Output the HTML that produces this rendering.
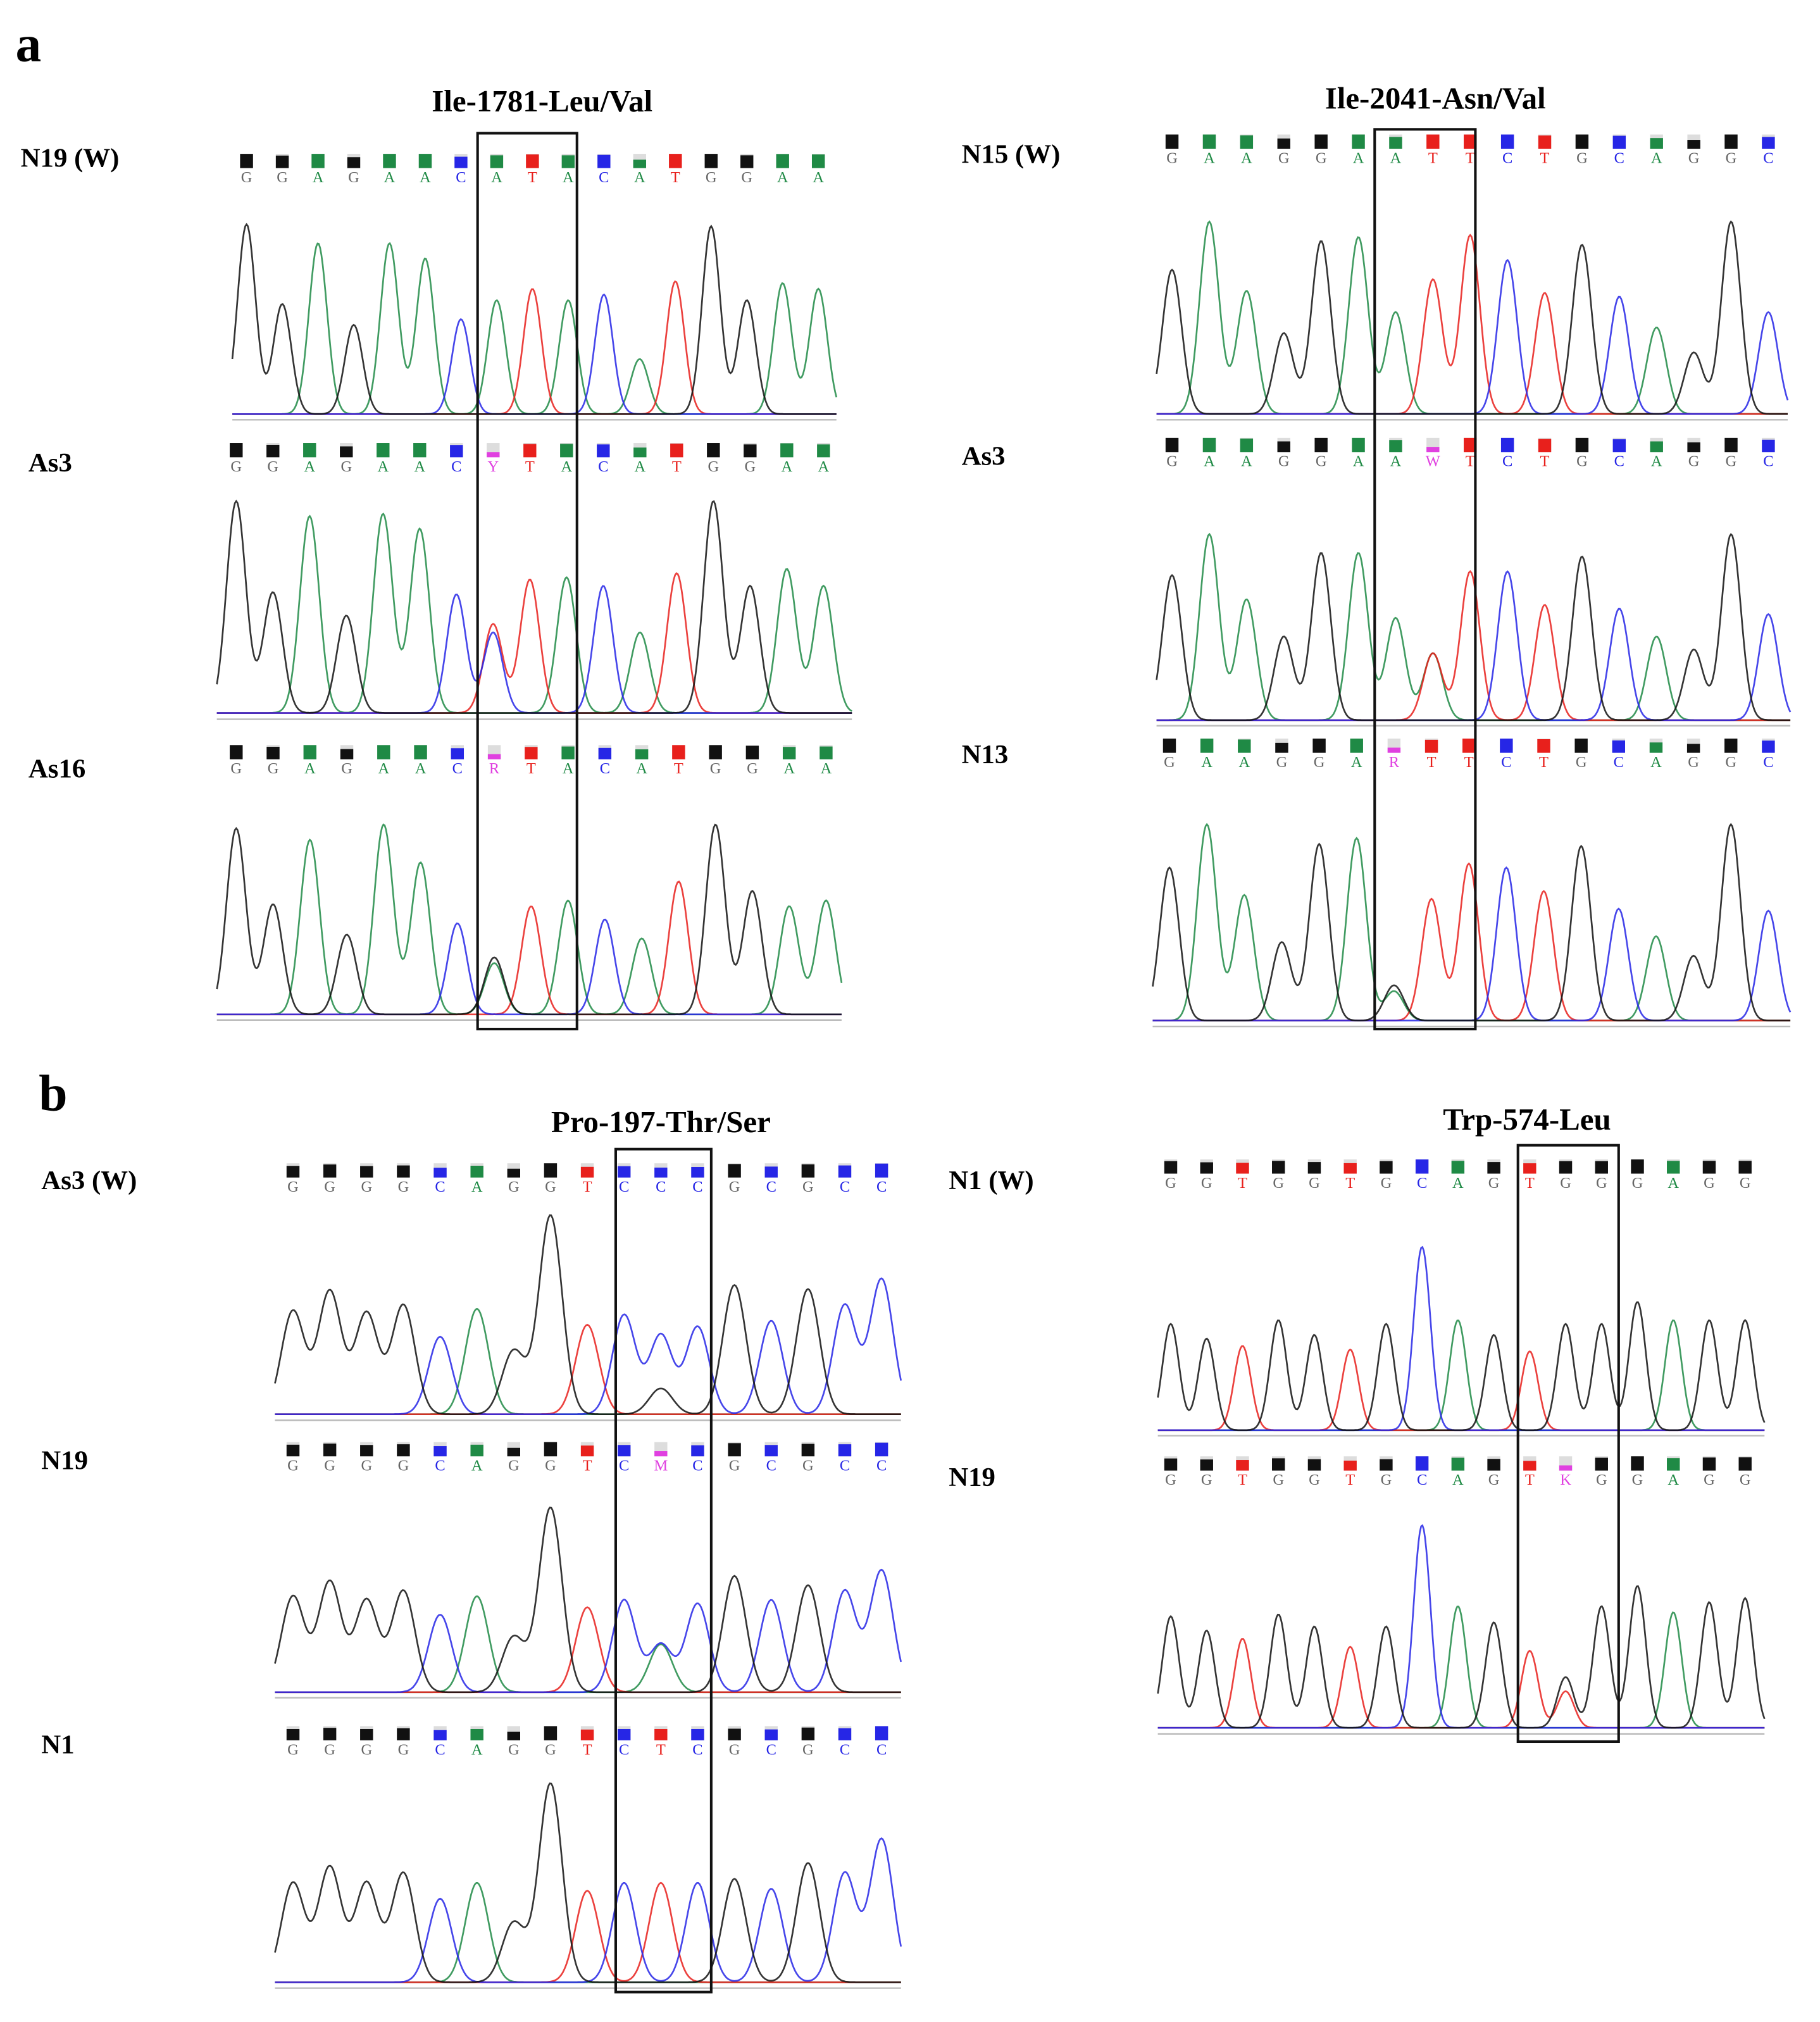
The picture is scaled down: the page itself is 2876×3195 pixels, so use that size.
<!DOCTYPE html>
<html><head><meta charset="utf-8"><style>
html,body{margin:0;padding:0;background:#fff;}
svg{display:block;}
text{font-family:"Liberation Serif",serif;}
</style></head><body>
<svg id="fig" width="2876" height="3195" viewBox="0 0 1410 1566" xmlns="http://www.w3.org/2000/svg">
<text x="12" y="47" font-size="40" font-weight="bold">a</text>
<text x="30" y="860" font-size="40" font-weight="bold">b</text>
<text x="420" y="86" font-size="24" font-weight="bold" text-anchor="middle">Ile-1781-Leu/Val</text>
<text x="1112" y="84" font-size="24" font-weight="bold" text-anchor="middle">Ile-2041-Asn/Val</text>
<text x="512" y="877" font-size="24" font-weight="bold" text-anchor="middle">Pro-197-Thr/Ser</text>
<text x="1183" y="875" font-size="24" font-weight="bold" text-anchor="middle">Trp-574-Leu</text>
<text x="16" y="129" font-size="21" font-weight="bold">N19 (W)</text>
<text x="22" y="365" font-size="21" font-weight="bold">As3</text>
<text x="22" y="602" font-size="21" font-weight="bold">As16</text>
<text x="745" y="126" font-size="21" font-weight="bold">N15 (W)</text>
<text x="745" y="360" font-size="21" font-weight="bold">As3</text>
<text x="745" y="591" font-size="21" font-weight="bold">N13</text>
<text x="32" y="921" font-size="21" font-weight="bold">As3 (W)</text>
<text x="32" y="1138" font-size="21" font-weight="bold">N19</text>
<text x="32" y="1358" font-size="21" font-weight="bold">N1</text>
<text x="735" y="921" font-size="21" font-weight="bold">N1 (W)</text>
<text x="735" y="1151" font-size="21" font-weight="bold">N19</text>
<g id="plots"></g>
</svg>
<script>
// ---- data: base calls and peak heights (fraction of tallest peak) ----
const seqN19a = "GGAGAACATACATGGAA";
const hN19a = [1.0,0.58,0.9,0.47,0.9,0.82,0.5,0.6,0.66,0.6,0.63,0.29,0.7,0.99,0.6,0.69,0.66];
const altN19a = [];
const seqAs3a = "GGAGAACYTACATGGAA";
const hAs3a = [1.0,0.57,0.93,0.46,0.94,0.87,0.56,0.42,0.63,0.64,0.6,0.38,0.66,1.0,0.6,0.68,0.6];
const altAs3a = [[7,"C",0.38]];
const seqAs16 = "GGAGAACRTACATGGAA";
const hAs16 = [0.98,0.58,0.92,0.42,1.0,0.8,0.48,0.27,0.57,0.6,0.5,0.4,0.7,1.0,0.65,0.57,0.6];
const altAs16 = [[7,"G",0.3]];
const seqN15 = "GAAGGAATTCTGCAGGC";
const hN15 = [0.75,1.0,0.64,0.42,0.9,0.92,0.53,0.7,0.93,0.8,0.63,0.88,0.61,0.45,0.32,1.0,0.53];
const altN15 = [];
const seqAs3b = "GAAGGAAWTCTGCAGGC";
const hAs3b = [0.78,1.0,0.65,0.45,0.9,0.9,0.55,0.36,0.8,0.8,0.62,0.88,0.6,0.45,0.38,1.0,0.57];
const altAs3b = [[7,"T",0.36]];
const seqN13 = "GAAGGARTTCTGCAGGC";
const hN13 = [0.78,1.0,0.64,0.4,0.9,0.93,0.15,0.62,0.8,0.78,0.66,0.89,0.57,0.43,0.33,1.0,0.56];
const altN13 = [[6,"G",0.18]];
const seqAs3W = "GGGGCAGGTCCCGCGCC";
const hAs3W = [0.52,0.62,0.51,0.55,0.39,0.53,0.32,1.0,0.45,0.5,0.4,0.44,0.65,0.47,0.63,0.55,0.68];
const altAs3W = [[10,"G",0.13]];
const seqN19b = "GGGGCAGGTCMCGCGCC";
const hN19b = [0.52,0.6,0.5,0.55,0.42,0.52,0.3,1.0,0.46,0.5,0.26,0.48,0.63,0.5,0.58,0.55,0.66];
const altN19b = [[10,"A",0.26]];
const seqN1b = "GGGGCAGGTCTCGCGCC";
const hN1b = [0.5,0.58,0.5,0.55,0.42,0.5,0.3,1.0,0.46,0.5,0.5,0.5,0.52,0.47,0.6,0.55,0.72];
const altN1b = [];
const seqN1W = "GGTGGTGCAGTGGGAGG";
const hN1W = [0.58,0.5,0.46,0.6,0.52,0.44,0.58,1.0,0.6,0.52,0.43,0.58,0.58,0.7,0.6,0.6,0.6];
const altN1W = [];
const seqN19c = "GGTGGTGCAGTKGGAGG";
const hN19c = [0.55,0.48,0.44,0.56,0.5,0.4,0.5,1.0,0.6,0.52,0.38,0.25,0.6,0.7,0.57,0.62,0.64];
const altN19c = [[11,"T",0.18]];

// ---- layout (not data) ----
const COL = {G:"#111",A:"#1f8a45",T:"#e8201c",C:"#2626e6"};
const AMB = {Y:"#e040e0",R:"#e040e0",W:"#e040e0",M:"#e040e0",K:"#e040e0"};
const rows = [
 {n:"n19-w",seq:seqN19a,h:hN19a,alt:altN19a,x0:191,x1:634,sq:119,base:325,top:178,tx0:180,tx1:648,sig:7},
 {n:"as3-a1",seq:seqAs3a,h:hAs3a,alt:altAs3a,x0:183,x1:638,sq:343,base:557,top:393,tx0:168,tx1:660,sig:7.5},
 {n:"as16",seq:seqAs16,h:hAs16,alt:altAs16,x0:183,x1:640,sq:577,base:790,top:643,tx0:168,tx1:652,sig:7.5},
 {n:"n15-w",seq:seqN15,h:hN15,alt:altN15,x0:908,x1:1370,sq:104,base:325,top:176,tx0:896,tx1:1385,sig:7.5},
 {n:"as3-a2",seq:seqAs3b,h:hAs3b,alt:altAs3b,x0:908,x1:1370,sq:339,base:562,top:418,tx0:896,tx1:1387,sig:7.5},
 {n:"n13",seq:seqN13,h:hN13,alt:altN13,x0:906,x1:1370,sq:572,base:795,top:643,tx0:893,tx1:1387,sig:7.5},
 {n:"as3-w",seq:seqAs3W,h:hAs3W,alt:altAs3W,x0:227,x1:683,sq:901,base:1100,top:946,tx0:213,tx1:698,sig:9},
 {n:"n19-b1",seq:seqN19b,h:hN19b,alt:altN19b,x0:227,x1:683,sq:1117,base:1315,top:1172,tx0:213,tx1:698,sig:9},
 {n:"n1-b1",seq:seqN1b,h:hN1b,alt:altN1b,x0:227,x1:683,sq:1337,base:1540,top:1386,tx0:213,tx1:698,sig:9},
 {n:"n1-w",seq:seqN1W,h:hN1W,alt:altN1W,x0:907,x1:1352,sq:898,base:1112,top:970,tx0:897,tx1:1367,sig:6.5},
 {n:"n19-b2",seq:seqN19c,h:hN19c,alt:altN19c,x0:907,x1:1352,sq:1128,base:1343,top:1186,tx0:897,tx1:1367,sig:6.5}
];
const boxes = [[370,103,447,797],[1065,100,1143,797],[477,890,551,1543],[1176,887,1254,1349]];
const NS="http://www.w3.org/2000/svg";
const g=document.getElementById('plots');
function mk(t,a){const e=document.createElementNS(NS,t);for(const k in a)e.setAttribute(k,a[k]);g.appendChild(e);return e;}
const amb={Y:["C","T"],R:["A","G"],W:["A","T"],M:["A","C"],K:["G","T"]};
rows.forEach(r=>{
  const n=r.seq.length, step=(r.x1-r.x0)/(n-1);
  const xs=i=>r.x0+i*step;
  const yv=h=>r.base-h*(r.base-r.top);
  const peaks={G:[],A:[],T:[],C:[]};
  for(let i=0;i<n;i++){
    const b=r.seq[i];
    let pb=b;
    if(amb[b]){
      const a=r.alt.find(q=>q[0]===i);
      pb = a? amb[b].find(c=>c!==a[1]) : amb[b][0];
    }
    peaks[pb].push([xs(i),r.h[i]]);
    const amp=Math.min(1,r.h[i]+0.3);
    const fill=amb[b]?AMB[b]:COL[b];
    const sh=11, hh=amb[b]?4:Math.max(4,sh*amp);
    const bg=mk('rect',{x:xs(i)-5,y:r.sq,width:10,height:sh,fill:'#ddd'});
    
    
    const q=mk('rect',{x:xs(i)-5,y:r.sq+sh-hh,width:10,height:hh,fill:fill});
    
    
    const t=mk('text',{x:xs(i),y:r.sq+sh+11,'font-size':12,'text-anchor':'middle',fill:amb[b]?AMB[b]:(b==="G"?"#666":COL[b]),'font-family':'Liberation Mono, monospace'});
    t.textContent=b;
    
    
  }
  r.alt.forEach(a=>peaks[a[1]].push([xs(a[0]),a[2]]));
  const bl=mk('line',{x1:r.tx0,y1:r.base,x2:r.tx1,y2:r.base,stroke:'#bbb','stroke-width':1.2});
  
  
  ["A","T","C","G"].forEach(c=>{
    let d="";
    for(let x=r.tx0;x<=r.tx1;x+=1){
      let s=0.03;
      peaks[c].forEach(p=>{s+=p[1]*Math.exp(-((x-p[0])**2)/(2*r.sig*r.sig));});
      d+=(x===r.tx0?"M":"L")+x.toFixed(1)+","+yv(s).toFixed(1);
    }
    const p=mk('path',{d:d,fill:'none',stroke:COL[c],'stroke-width':1.3,opacity:0.85});
    
    
  });
});
boxes.forEach(b=>{
  const e=mk('rect',{x:b[0],y:b[1],width:b[2]-b[0],height:b[3]-b[1],fill:'none',stroke:'#111','stroke-width':2});
  
  
});
</script>
</body></html>
